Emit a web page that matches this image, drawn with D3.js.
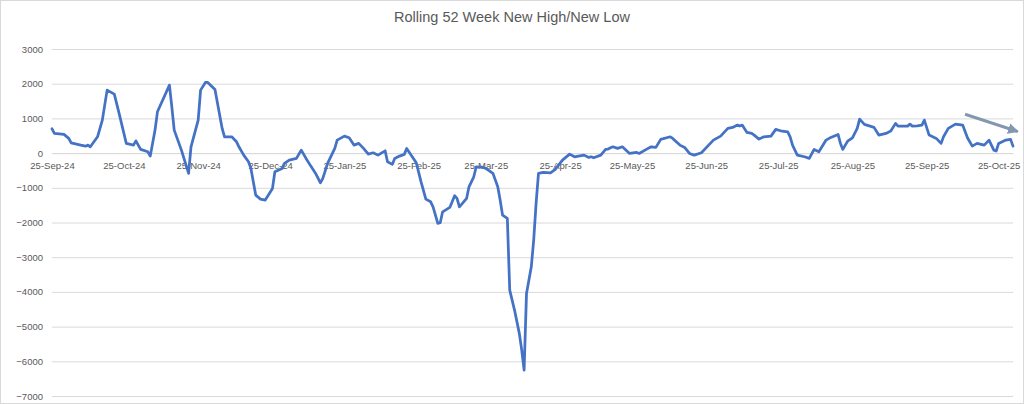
<!DOCTYPE html>
<html>
<head>
<meta charset="utf-8">
<script src="https://cdn.jsdelivr.net/npm/d3@7"></script>
<style>
  html, body { margin: 0; padding: 0; background: #fff; }
  svg { display: block; }
</style>
</head>
<body>
<svg id="chart" width="1024" height="404"></svg>
<script>
// ---- Data ----
const title = "Rolling 52 Week New High/New Low";

const dates = [
  "2024-09-25","2024-09-26","2024-09-30","2024-10-02","2024-10-03","2024-10-07","2024-10-09","2024-10-10","2024-10-11","2024-10-14",
  "2024-10-16","2024-10-18","2024-10-21","2024-10-23","2024-10-26","2024-10-29","2024-10-30","2024-11-01","2024-11-04","2024-11-05",
  "2024-11-07","2024-11-08","2024-11-13","2024-11-14","2024-11-15","2024-11-18","2024-11-21","2024-11-22","2024-11-25","2024-11-26",
  "2024-11-28","2024-11-29","2024-12-02","2024-12-05","2024-12-06","2024-12-09","2024-12-11","2024-12-12","2024-12-14","2024-12-16",
  "2024-12-17","2024-12-19","2024-12-21","2024-12-23","2024-12-26","2024-12-27","2024-12-30","2024-12-31","2025-01-02","2025-01-05",
  "2025-01-07","2025-01-09","2025-01-11","2025-01-13","2025-01-15","2025-01-16","2025-01-18","2025-01-21","2025-01-22","2025-01-25",
  "2025-01-27","2025-01-29","2025-01-31","2025-02-02","2025-02-04","2025-02-06","2025-02-08","2025-02-11","2025-02-12","2025-02-14",
  "2025-02-15","2025-02-17","2025-02-19","2025-02-20","2025-02-24","2025-02-26","2025-02-28","2025-03-02","2025-03-03","2025-03-05",
  "2025-03-06","2025-03-07","2025-03-10","2025-03-12","2025-03-13","2025-03-14","2025-03-15","2025-03-17","2025-03-18","2025-03-20",
  "2025-03-21","2025-03-24","2025-03-25","2025-03-28","2025-03-30","2025-03-31","2025-04-01","2025-04-03","2025-04-04","2025-04-06",
  "2025-04-08","2025-04-09","2025-04-10","2025-04-11","2025-04-13","2025-04-14","2025-04-15","2025-04-16","2025-04-18","2025-04-21",
  "2025-04-23","2025-04-26","2025-04-29","2025-05-01","2025-05-05","2025-05-07","2025-05-08","2025-05-09","2025-05-12","2025-05-14",
  "2025-05-15","2025-05-17","2025-05-19","2025-05-21","2025-05-24","2025-05-27","2025-05-28","2025-05-31","2025-06-02","2025-06-04",
  "2025-06-06","2025-06-10","2025-06-11","2025-06-14","2025-06-16","2025-06-18","2025-06-20","2025-06-23","2025-06-26","2025-06-28",
  "2025-07-01","2025-07-04","2025-07-06","2025-07-08","2025-07-09","2025-07-10","2025-07-12","2025-07-14","2025-07-15","2025-07-17",
  "2025-07-19","2025-07-22","2025-07-24","2025-07-26","2025-07-29","2025-07-30","2025-07-31","2025-08-02","2025-08-05","2025-08-07",
  "2025-08-09","2025-08-11","2025-08-14","2025-08-16","2025-08-19","2025-08-20","2025-08-21","2025-08-23","2025-08-25","2025-08-27",
  "2025-08-28","2025-08-30","2025-09-03","2025-09-05","2025-09-08","2025-09-10","2025-09-12","2025-09-13","2025-09-17","2025-09-18",
  "2025-09-19","2025-09-21","2025-09-23","2025-09-24","2025-09-26","2025-09-29","2025-10-01","2025-10-02","2025-10-04","2025-10-07",
  "2025-10-10","2025-10-12","2025-10-14","2025-10-16","2025-10-19","2025-10-21","2025-10-23","2025-10-24","2025-10-25","2025-10-28",
  "2025-10-30","2025-10-31"
];

const values = [
  700, 567, 540, 424, 297, 230, 200, 230, 182, 470,
  951, 1815, 1700, 1144, 280, 230, 354, 106, 37, -86,
  663, 1190, 1960, 1334, 663, 86, -585, 182, 951, 1815,
  2037, 2037, 1836, 712, 470, 470, 326, 182, -58, -250,
  -441, -1210, -1326, -1354, -1018, -539, -441, -297, -202, -153,
  86, -153, -375, -585, -856, -729, -297, 135, 375, 490,
  441, 230, 280, 135, -29, 9, -58, 66, -250, -326,
  -153, -86, -37, 135, -280, -827, -1326, -1403, -1548, -2026,
  -2008, -1692, -1565, -1230, -1306, -1548, -1470, -1306, -971, -683,
  -395, -412, -441, -585, -971, -1354, -1787, -1882, -3948, -4524,
  -5196, -5677, -6254, -4043, -3277, -2507, -1450, -585, -556, -568,
  -470, -202, -29, -106, -58, -125, -106, -135, -58, 106,
  115, 182, 135, 182, -10, 20, -10, 106, 182, 164,
  395, 470, 424, 230, 164, -10, -58, 9, 230, 375,
  490, 712, 741, 807, 778, 807, 597, 568, 519, 403,
  470, 490, 683, 643, 614, 470, 230, -58, -106, -153,
  106, 37, 375, 452, 539, 280, 106, 346, 441, 712,
  980, 827, 741, 519, 568, 634, 856, 778, 778, 836,
  778, 787, 807, 951, 519, 424, 280, 470, 712, 836,
  807, 441, 202, 280, 230, 375, 86, 58, 280, 375,
  395, 202
];

const yTicks = [3000, 2000, 1000, 0, -1000, -2000, -3000, -4000, -5000, -6000, -7000];
const xTickLabels = ["25-Sep-24","25-Oct-24","25-Nov-24","25-Dec-24","25-Jan-25","25-Feb-25","25-Mar-25",
                     "25-Apr-25","25-May-25","25-Jun-25","25-Jul-25","25-Aug-25","25-Sep-25","25-Oct-25"];

// Trend arrow annotation (data coordinates)
const arrowFrom = ["2025-10-11", 1120];
const arrowTo   = ["2025-11-02", 620];

// ---- Chart ----
const parse = d3.timeParse("%Y-%m-%d");
const tickParse = d3.timeParse("%d-%b-%y");
const data = dates.map((d, i) => ({ date: parse(d), value: values[i] }));

const svg = d3.select("#chart");
const W = 1024, H = 404;
const plot = { left: 52, right: 1013, top: 49, bottom: 396 };

svg.append("rect")
  .attr("x", 0.5).attr("y", 0.5).attr("width", W - 1).attr("height", H - 1)
  .attr("fill", "#fff").attr("stroke", "#d9d9d9");

const x = d3.scaleTime()
  .domain([parse("2024-09-25"), parse("2025-10-31")])
  .range([plot.left, plot.right]);

const y = d3.scaleLinear()
  .domain([-7000, 3000])
  .range([plot.bottom, plot.top]);

const font = "'Liberation Sans', Arial, sans-serif";

// Title
svg.append("text")
  .attr("x", 512).attr("y", 22)
  .attr("text-anchor", "middle")
  .attr("font-family", font)
  .attr("font-size", "14.5px")
  .attr("fill", "#595959")
  .text(title);

// Y axis with gridlines
const yAxis = d3.axisLeft(y)
  .tickValues(yTicks)
  .tickSize(-(plot.right - plot.left))
  .tickPadding(9)
  .tickFormat(d3.format("d"));

const gy = svg.append("g")
  .attr("transform", `translate(${plot.left},0)`)
  .call(yAxis);
gy.select(".domain").remove();
gy.selectAll(".tick line").attr("stroke", "#d9d9d9").attr("stroke-width", 1);
gy.selectAll(".tick text")
  .attr("font-family", font).attr("font-size", "9.5px").attr("fill", "#595959");

// X axis along zero
const xAxis = d3.axisBottom(x)
  .tickValues(xTickLabels.map(s => tickParse(s)))
  .tickSize(0)
  .tickPadding(9)
  .tickFormat(d3.timeFormat("%d-%b-%y"));

const gx = svg.append("g")
  .attr("transform", `translate(0,${y(0)})`)
  .call(xAxis);
gx.select(".domain").attr("stroke", "#d9d9d9");
gx.selectAll(".tick text")
  .attr("font-family", font).attr("font-size", "9.5px").attr("fill", "#595959");

// Line
const line = d3.line()
  .x(d => x(d.date))
  .y(d => y(d.value));

svg.append("path")
  .datum(data)
  .attr("fill", "none")
  .attr("stroke", "#4472c4")
  .attr("stroke-width", 2.75)
  .attr("stroke-linejoin", "round")
  .attr("stroke-linecap", "round")
  .attr("d", line);

// Arrow annotation
const defs = svg.append("defs");
defs.append("marker")
  .attr("id", "arrowhead")
  .attr("viewBox", "0 0 10 10")
  .attr("refX", 9).attr("refY", 5)
  .attr("markerWidth", 3.6).attr("markerHeight", 3.6)
  .attr("orient", "auto")
  .append("path")
  .attr("d", "M0,0 L10,5 L0,10 Z")
  .attr("fill", "#8497b0");

svg.append("line")
  .attr("x1", x(parse(arrowFrom[0]))).attr("y1", y(arrowFrom[1]))
  .attr("x2", x(parse(arrowTo[0]))).attr("y2", y(arrowTo[1]))
  .attr("stroke", "#8497b0")
  .attr("stroke-width", 3)
  .attr("marker-end", "url(#arrowhead)");
</script>
</body>
</html>
